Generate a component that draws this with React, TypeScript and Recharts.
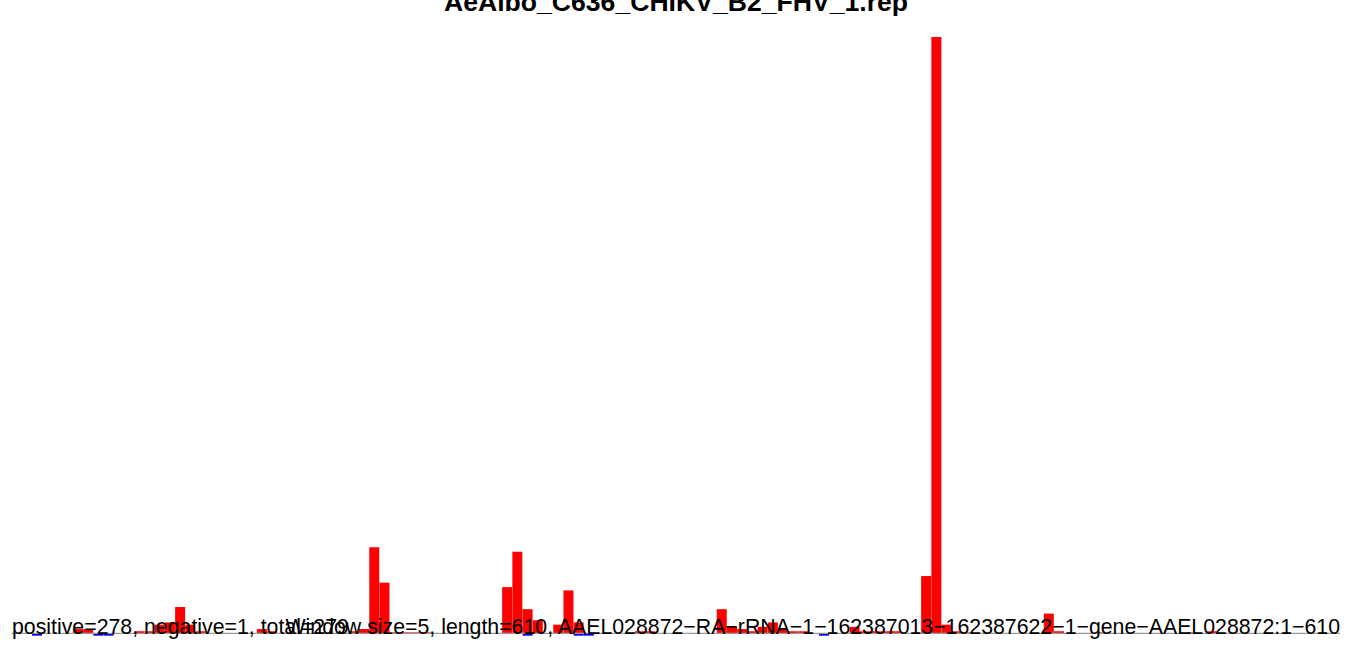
import { Bar, BarChart, ReferenceLine, XAxis, YAxis } from 'recharts';

const WINDOW = 5;
const LENGTH = 610;

const title = 'AeAlbo_C636_CHIKV_B2_FHV_1.rep';
const countsLabel = 'positive=278, negative=1, total=279';
const infoLabel =
  'Window size=5, length=610, AAEL028872\u2212RA\u2212rRNA\u22121\u2212162387013\u2212162387622\u22121\u2212gene\u2212AAEL028872:1\u2212610';

// window start positions along the 610 nt reference
const binStarts = Array.from({ length: LENGTH / WINDOW }, (_, i) => i * WINDOW + 1);

// per-window coverage
const positive = [
  0, 0, 0, 0, 0, 0, 2, 2, 0, 0,
  0, 0, 1, 1, 4, 5, 12, 4, 1, 0,
  0, 0, 0, 0, 2, 1, 0, 0, 0, 0,
  0, 0, 0, 1, 2, 39, 23, 0.5, 0.5, 0.5,
  0.5, 0, 0, 0, 0, 0, 0, 0, 21, 37,
  11, 6, 0, 4, 19.5, 5, 0, 0, 0, 0,
  0, 1, 1, 0, 0, 0, 0, 0, 0, 11,
  3, 2, 1, 3, 5, 2, 1, 1, 0, 0,
  0, 0, 3, 1, 1, 1, 1, 0, 0, 26,
  270, 4, 1, 0.5, 0, 0, 0, 0, 0, 0,
  0, 9, 1, 0, 0, 0, 0.5, 0, 0, 0,
  0, 0, 0, 0, 0, 0.5, 0, 1, 0, 0,
  0, 0,
];

const negative = [
  0, 0, -1, 0, 0, 0, 0, 0, -1, -1,
  0, 0, 0, 0, 0, 0, 0, 0, 0, 0,
  0, 0, 0, 0, 0, 0, 0, 0, 0, 0,
  0, 0, 0, 0, 0, 0, 0, 0, 0, 0,
  0, 0, 0, 0, 0, 0, 0, 0, 0, 0,
  -1, 0, 0, 0, 0, -1, -1, 0, 0, 0,
  0, 0, 0, 0, 0, 0, 0, 0, 0, 0,
  0, 0, 0, 0, 0, 0, 0, 0, 0, -1,
  0, 0, 0, 0, 0, 0, 0, 0, 0, 0,
  0, 0, 0, 0, 0, 0, 0, 0, 0, 0,
  0, 0, 0, 0, 0, 0, 0, 0, 0, 0,
  0, 0, 0, 0, 0, 0, 0, 0, 0, 0,
  0, 0,
];

const data = binStarts.map((bin, i) => ({
  bin,
  pos: positive[i],
  neg: negative[i],
}));

const FONT = '"Liberation Sans", Arial, Helvetica, sans-serif';

export default function App() {
  return (
    <div style={{ position: 'absolute', left: 0, top: 0, width: 1352, height: 646, background: '#fff' }}>
      <BarChart
        width={1352}
        height={646}
        data={data}
        stackOffset="sign"
        barCategoryGap={0}
        barGap={0}
        margin={{ top: 37, right: 12, bottom: 5.9, left: 11.6 }}
      >
        <XAxis dataKey="bin" hide padding={{ left: 0, right: 81.6 }} />
        <YAxis hide type="number" domain={[-3, 270]} />
        <ReferenceLine y={0} stroke="#9a9a9a" strokeWidth={1.2} />
        <Bar dataKey="pos" stackId="s" fill="#ff0000" isAnimationActive={false} />
        <Bar dataKey="neg" stackId="s" fill="#0000ff" isAnimationActive={false} />
      </BarChart>
      <svg
        width={1352}
        height={646}
        style={{ position: 'absolute', left: 0, top: 0, pointerEvents: 'none' }}
      >
        <text x={676} y={11} textAnchor="middle" fontFamily={FONT} fontWeight="bold" fontSize={26.6} fill="#000">
          {title}
        </text>
        <text x={12} y={634} fontFamily={FONT} fontSize={21.3} fill="#000">
          {countsLabel}
        </text>
        <text x={1340} y={634} textAnchor="end" fontFamily={FONT} fontSize={21.3} fill="#000">
          {infoLabel}
        </text>
      </svg>
    </div>
  );
}
